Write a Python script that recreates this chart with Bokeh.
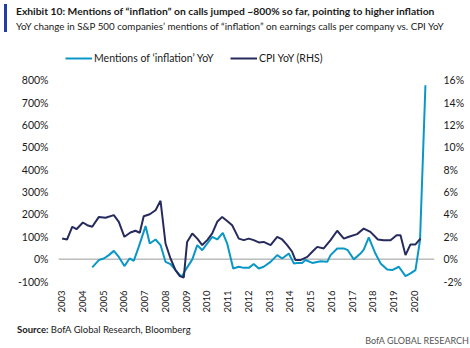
import math
from bokeh.plotting import figure
from bokeh.models import (Range1d, LinearAxis, FixedTicker, PrintfTickFormatter, Span,
                          Legend, LegendItem, Div)
from bokeh.layouts import column
from bokeh.embed import file_html
from bokeh.resources import INLINE

# ---- data ----
cpi_dates = [2003.03, 2003.27, 2003.52, 2003.72, 2004.03, 2004.24, 2004.48, 2004.80, 2005.12,
             2005.52, 2005.76, 2006.03, 2006.32, 2006.56, 2006.77, 2006.96, 2007.25, 2007.53,
             2007.77, 2008.01, 2008.25, 2008.49, 2008.70, 2008.89, 2009.05, 2009.30, 2009.54,
             2009.78, 2010.02, 2010.26, 2010.50, 2010.74, 2010.98, 2011.22, 2011.38, 2011.54,
             2011.78, 2012.02, 2012.26, 2012.50, 2012.74, 2013.07, 2013.39, 2013.63, 2013.87,
             2014.11, 2014.27, 2014.51, 2014.84, 2015.08, 2015.32, 2015.63, 2015.96, 2016.28,
             2016.60, 2016.84, 2017.24, 2017.56, 2017.88, 2018.24, 2018.52, 2018.85, 2019.14,
             2019.33, 2019.57, 2019.81, 2020.05, 2020.29]
cpi_values = [1.85, 1.76, 2.90, 2.68, 3.28, 3.04, 2.90, 3.78, 3.70,
              3.94, 3.34, 2.00, 2.38, 2.54, 2.36, 3.84, 4.02, 4.38,
              5.22, 1.40, 0.06, -0.98, -1.52, -1.64, 1.54, 2.30, 1.84,
              1.26, 1.70, 2.30, 3.34, 3.78, 3.42, 3.04, 2.44, 1.84,
              1.70, 1.84, 1.70, 1.50, 1.54, 1.26, 2.00, 1.76, 1.26,
              0.66, -0.08, -0.08, 0.20, 0.66, 1.10, 0.96, 1.70, 2.54,
              1.84, 2.00, 2.24, 2.74, 2.44, 1.76, 1.70, 1.70, 2.14,
              2.14, 0.36, 1.32, 1.32, 1.84]

mention_dates = [2004.48, 2004.80, 2005.04, 2005.28, 2005.52, 2005.76, 2006.03, 2006.28, 2006.48,
                 2006.72, 2007.05, 2007.25, 2007.53, 2007.77, 2008.01, 2008.25, 2008.49, 2008.70,
                 2008.81, 2008.97, 2009.30, 2009.54, 2009.78, 2010.02, 2010.26, 2010.50, 2010.77,
                 2010.98, 2011.27, 2011.54, 2011.78, 2012.02, 2012.26, 2012.50, 2012.74, 2013.07,
                 2013.39, 2013.63, 2013.95, 2014.19, 2014.35, 2014.59, 2014.75, 2015.08, 2015.48,
                 2015.80, 2015.96, 2016.28, 2016.60, 2016.79, 2017.08, 2017.40, 2017.56, 2017.80,
                 2018.12, 2018.37, 2018.69, 2018.93, 2019.25, 2019.57, 2019.81, 2020.05, 2020.27,
                 2020.53]
mention_values = [-37, -4, 3, 18, 37, 10, -31, 3, -8,
                  55, 148, 70, 88, 63, -12, -22, -49, -72,
                  -76, -49, -1, 63, 40, 70, 100, 88, 118,
                  70, -42, -34, -39, -39, -22, -42, -34, -12,
                  18, 3, 25, -19, -17, -17, -4, -17, -9,
                  -12, 18, 48, 48, 40, -1, 25, 43, 97,
                  25, -19, -46, -49, -34, -76, -64, -49, 85,
                  778]

year_ticks = list(range(2003, 2021))
left_ticks = list(range(-100, 900, 100))
right_ticks = list(range(-2, 18, 2))

title_text = "Exhibit 10: Mentions of \u201cinflation\u201d on calls jumped ~800% so far, pointing to higher inflation"
subtitle_text = ("YoY change in S&amp;P 500 companies\u2019 mentions of \u201cinflation\u201d on earnings calls "
                 "per company vs. CPI YoY")
legend_labels = ["Mentions of \u2018inflation\u2019 YoY", "CPI YoY (RHS)"]

CYAN = "#0a97c6"
NAVY = "#262a5c"
FONT = "Lato"
TXT = "#1a1a1a"

p = figure(width=470, height=280, output_backend="svg", toolbar_location=None,
           x_range=Range1d(2002.855, 2020.967), y_range=Range1d(-100, 956),
           min_border_left=58, min_border_right=36, min_border_top=5, min_border_bottom=39)
p.title.visible = False
p.outline_line_color = None
p.xgrid.visible = False
p.ygrid.visible = False
p.background_fill_color = "white"
p.border_fill_color = "white"

def style_axis(ax, standoff, size):
    ax.axis_line_color = None
    ax.major_tick_line_color = None
    ax.minor_tick_line_color = None
    ax.major_tick_out = 0
    ax.major_tick_in = 0
    ax.minor_tick_out = 0
    ax.minor_tick_in = 0
    ax.major_label_text_font = FONT
    ax.major_label_text_font_size = size
    ax.major_label_text_color = TXT
    ax.major_label_standoff = standoff

yl = p.yaxis[0]
yl.ticker = FixedTicker(ticks=left_ticks)
yl.formatter = PrintfTickFormatter(format="%d%%")
style_axis(yl, 10, "10.5px")

p.extra_y_ranges = {"cpi": Range1d(-2, 19.12)}
yr = LinearAxis(y_range_name="cpi")
yr.ticker = FixedTicker(ticks=right_ticks)
yr.formatter = PrintfTickFormatter(format="%d%%")
style_axis(yr, 9, "10.5px")
p.add_layout(yr, "right")

xa = p.xaxis[0]
xa.ticker = FixedTicker(ticks=year_ticks)
xa.formatter = PrintfTickFormatter(format="%d")
xa.major_label_orientation = math.pi / 2
style_axis(xa, 9, "9.5px")

p.add_layout(Span(location=0, dimension="width", line_color="#9a9a9a", line_width=1, level="underlay"))

r1 = p.line(mention_dates, mention_values, line_color=CYAN, line_width=2)
r2 = p.line(cpi_dates, cpi_values, y_range_name="cpi", line_color=NAVY, line_width=2)

def mk_legend(label, r, x, gw):
    lg = Legend(items=[LegendItem(label=label, renderers=[r])], location=(x, 217),
                orientation="horizontal", border_line_color=None, background_fill_alpha=0,
                padding=0, margin=0, glyph_width=gw, glyph_height=12, label_height=12,
                label_standoff=2, label_text_font=FONT, label_text_font_size="10.5px",
                label_text_color=TXT)
    p.add_layout(lg, "center")

mk_legend(legend_labels[0], r1, 7, 27)
mk_legend(legend_labels[1], r2, 172, 27)

header_html = (
    '<div style="position:relative;width:470px;height:40px;font-family:Lato;color:#1a1a1a;">'
    '<div style="position:absolute;left:4px;top:4px;width:3px;height:28px;background:#1f3fa6;"></div>'
    '<div style="position:absolute;left:16px;top:4px;font-size:10.3px;font-weight:bold;'
    'line-height:14px;white-space:nowrap;">' + title_text + '</div>'
    '<div style="position:absolute;left:16px;top:19px;font-size:9.8px;'
    'line-height:14px;white-space:nowrap;">' + subtitle_text + '</div>'
    '</div>')
footer_html = (
    '<div style="position:relative;width:470px;height:28px;font-family:Lato;color:#1a1a1a;">'
    '<div style="position:absolute;left:17px;top:3px;font-size:9.5px;line-height:14px;white-space:nowrap;">'
    '<b>Source:</b> BofA Global Research, Bloomberg</div>'
    '<div style="position:absolute;right:1px;top:14px;font-size:9px;line-height:14px;'
    'white-space:nowrap;color:#555555;">BofA GLOBAL RESEARCH</div>'
    '</div>')

header = Div(text=header_html, width=470, height=40, margin=0)
footer = Div(text=footer_html, width=470, height=28, margin=0)

layout = column(header, p, footer, spacing=0, margin=0)
open("out.html", "w").write(file_html(layout, INLINE))
